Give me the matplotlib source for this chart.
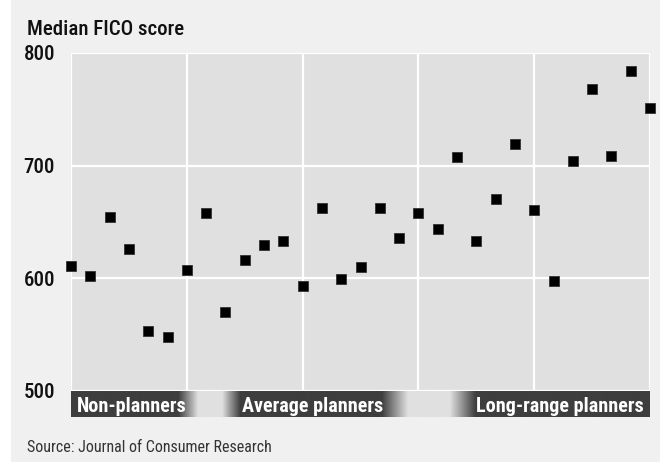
import numpy as np
import matplotlib
matplotlib.use("Agg")
import matplotlib.pyplot as plt
from matplotlib.patches import Rectangle

# median FICO score for each planning group, left to right
scores = [611, 602, 654, 626, 553, 548, 607, 658, 570, 616, 630, 633, 593, 662, 599,
          610, 662, 636, 658, 644, 708, 633, 670, 719, 661, 598, 704, 768, 709, 784, 751]
y_ticks = [500, 600, 700, 800]
group_labels = ["Non-planners", "Average planners", "Long-range planners"]

plt.rcParams['font.family'] = ['Roboto Condensed', 'DejaVu Sans']
plt.rcParams['font.stretch'] = 'condensed'

fig = plt.figure(figsize=(6.6, 4.63), dpi=100)
fig.patch.set_facecolor("white")
fig.patches.append(Rectangle((11 / 660, 1 / 463), 1, 1, transform=fig.transFigure,
                             facecolor="#f0f0f0", edgecolor="none", zorder=-10))

ax = fig.add_axes([71 / 660, 1 - 391 / 463, 579 / 660, 338 / 463])
ax.set_facecolor("#e0e0e0")
x = np.arange(len(scores))
ax.plot(x, scores, linestyle="none", marker="s", markersize=7, color="black",
        markeredgecolor="#333333", markeredgewidth=0.6, clip_on=False, zorder=5)
ax.set_xlim(0, len(scores) - 1)
ax.set_ylim(500, 800)
ax.set_xticks(np.arange(0, len(scores), 6))
ax.set_yticks(y_ticks)
ax.set_yticklabels([str(t) for t in y_ticks])
ax.tick_params(axis="x", length=0, labelbottom=False)
ax.tick_params(axis="y", length=0, pad=11.5, labelsize=15, labelcolor="#111111")
for lbl in ax.get_yticklabels():
    lbl.set_fontweight("medium")
ax.grid(True, color="white", linewidth=1.6)
ax.set_axisbelow(True)
for s in ax.spines.values():
    s.set_visible(False)

# gradient band with group names
band = fig.add_axes([71 / 660, 1 - 417 / 463, 579 / 660, 26 / 463])
stops = [0, 0.185, 0.219, 0.261, 0.292, 0.537, 0.582, 0.655, 0.699, 1]
light = [0, 0, 1, 1, 0, 0, 1, 1, 0, 0]
xs = np.linspace(0, 1, 600)
t = np.interp(xs, stops, light)
dark_c = np.array([0x3e, 0x3e, 0x3e]) / 255
light_c = np.array([0xe0, 0xe0, 0xe0]) / 255
img = dark_c[None, :] * (1 - t[:, None]) + light_c[None, :] * t[:, None]
band.imshow(img[None, :, :], aspect="auto", extent=[0, 1, 0, 1])
band.set_xlim(0, 1)
band.set_ylim(0, 1)
band.axis("off")
band.text(6 / 579, 0.2, group_labels[0], color="white", fontsize=14.5,
          fontweight="bold", ha="left", va="baseline")
band.text(171 / 579, 0.2, group_labels[1], color="white", fontsize=14.5,
          fontweight="bold", ha="left", va="baseline")
band.text(573 / 579, 0.2, group_labels[2], color="white", fontsize=14.5,
          fontweight="bold", ha="right", va="baseline")

fig.text(27 / 660, 1 - 35 / 463, "Median FICO score", fontsize=15,
         fontweight="medium", color="#111111", ha="left", va="baseline")
fig.text(27 / 660, 1 - 452 / 463, "Source: Journal of Consumer Research",
         fontsize=11.5, color="#333333", ha="left", va="baseline")

fig.savefig("out.png", dpi=100, facecolor=fig.get_facecolor())
